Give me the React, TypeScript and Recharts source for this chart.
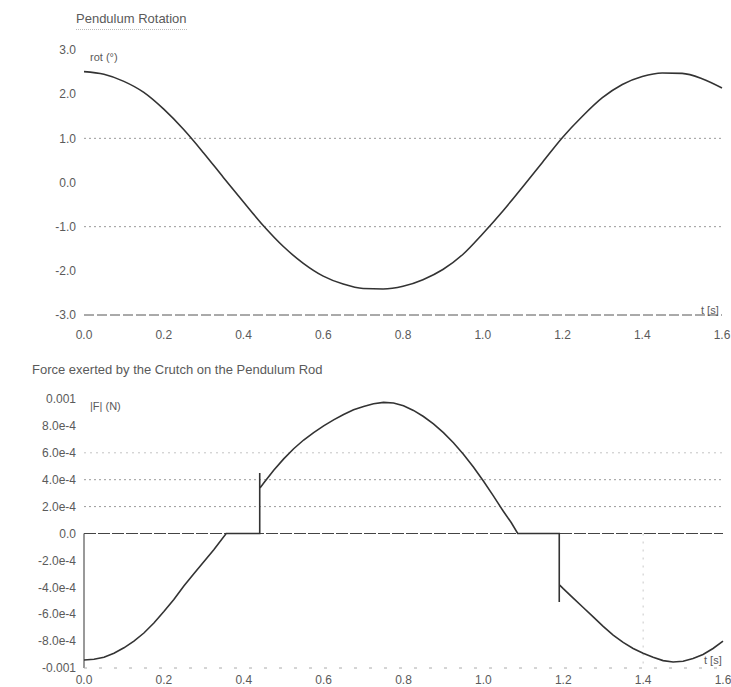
import React from "react";
import { LineChart, Line, XAxis, YAxis, ReferenceLine } from "recharts";

// ---- Pendulum rotation (degrees) ----
const rotTime = [0, 0.05, 0.1, 0.15, 0.2, 0.25, 0.3, 0.35, 0.4, 0.45, 0.5, 0.55, 0.6, 0.65, 0.7, 0.75, 0.8, 0.85, 0.9, 0.95, 1.0, 1.05, 1.1, 1.15, 1.2, 1.25, 1.3, 1.35, 1.4, 1.45, 1.5, 1.55, 1.6];
const rotValues = [2.51, 2.45, 2.29, 2.04, 1.66, 1.2, 0.67, 0.11, -0.44, -0.98, -1.45, -1.83, -2.12, -2.3, -2.4, -2.41, -2.35, -2.2, -1.97, -1.63, -1.16, -0.65, -0.1, 0.46, 1.02, 1.5, 1.92, 2.22, 2.4, 2.48, 2.47, 2.35, 2.14];

// ---- Force exerted by the crutch (N) ----
const forceTime = [
  0, 0.025, 0.05, 0.075, 0.1, 0.125, 0.15, 0.175, 0.2, 0.225, 0.25, 0.275, 0.3, 0.325, 0.356,
  0.44, 0.44, 0.44, 0.45, 0.475, 0.5, 0.525, 0.55, 0.575, 0.6, 0.625, 0.65, 0.675, 0.7, 0.725, 0.75, 0.775, 0.8, 0.825, 0.85, 0.875, 0.9, 0.925, 0.95, 0.975, 1.0, 1.025, 1.05, 1.07, 1.086,
  1.19, 1.19, 1.19, 1.2, 1.225, 1.25, 1.275, 1.3, 1.325, 1.35, 1.375, 1.4, 1.425, 1.45, 1.475, 1.5, 1.525, 1.55, 1.575, 1.6,
];
const forceValues = [
  -9.4e-4, -9.35e-4, -9.2e-4, -8.9e-4, -8.5e-4, -8.0e-4, -7.4e-4, -6.65e-4, -5.8e-4, -4.9e-4, -3.9e-4, -3.0e-4, -2.1e-4, -1.2e-4, 0,
  0, 4.5e-4, 3.35e-4, 3.75e-4, 4.7e-4, 5.55e-4, 6.3e-4, 6.95e-4, 7.5e-4, 8.0e-4, 8.45e-4, 8.85e-4, 9.2e-4, 9.45e-4, 9.65e-4, 9.75e-4, 9.7e-4, 9.5e-4, 9.15e-4, 8.7e-4, 8.15e-4, 7.5e-4, 6.75e-4, 5.9e-4, 4.95e-4, 3.9e-4, 2.8e-4, 1.65e-4, 0.8e-4, 0,
  0, -5.1e-4, -3.8e-4, -4.1e-4, -4.8e-4, -5.5e-4, -6.2e-4, -6.9e-4, -7.55e-4, -8.1e-4, -8.55e-4, -8.9e-4, -9.2e-4, -9.45e-4, -9.55e-4, -9.5e-4, -9.3e-4, -9.0e-4, -8.55e-4, -8.0e-4,
];

const timeTicks = [0, 0.2, 0.4, 0.6, 0.8, 1.0, 1.2, 1.4, 1.6];
const rotTicks = [-3, -2, -1, 0, 1, 2, 3];
const forceTicks = [-0.001, -8e-4, -6e-4, -4e-4, -2e-4, 0, 2e-4, 4e-4, 6e-4, 8e-4, 0.001];
const forceTickLabels = ["-0.001", "-8.0e-4", "-6.0e-4", "-4.0e-4", "-2.0e-4", "0.0", "2.0e-4", "4.0e-4", "6.0e-4", "8.0e-4", "0.001"];

const rotData = rotTime.map((t, i) => ({ t, v: rotValues[i] }));
const forceData = forceTime.map((t, i) => ({ t, v: forceValues[i] }));

const FONT = "'Liberation Sans', Arial, sans-serif";
const textGray = "#5a5a5a";
const tickStyle = { fill: textGray, fontSize: 12, fontFamily: FONT };

const abs = (left: number, top: number, size = 12): React.CSSProperties => ({
  position: "absolute",
  left,
  top,
  fontSize: size,
  fontFamily: FONT,
  color: textGray,
  whiteSpace: "nowrap",
  lineHeight: 1,
});

export default function App() {
  return (
    <div style={{ position: "absolute", left: 0, top: 0, width: 731, height: 687, background: "#fff", overflow: "hidden" }}>
      <div style={{ position: "absolute", left: 0, top: 0 }}>
        <LineChart width={731} height={345} data={rotData} margin={{ top: 50, right: 9, bottom: 0, left: 34 }}>
          <XAxis
            type="number"
            dataKey="t"
            domain={[0, 1.6]}
            ticks={timeTicks}
            tickFormatter={(v: number) => v.toFixed(1)}
            tick={tickStyle}
            tickLine={false}
            axisLine={{ stroke: "#555", strokeDasharray: "10 3", strokeWidth: 1 }}
            tickMargin={9}
            height={30}
            interval={0}
          />
          <YAxis
            type="number"
            domain={[-3, 3]}
            ticks={rotTicks}
            tickFormatter={(v: number) => v.toFixed(1)}
            tick={tickStyle}
            tickLine={false}
            axisLine={false}
            width={50}
            interval={0}
          />
          <ReferenceLine y={1} stroke="#9a9a9a" strokeDasharray="2 3" />
          <ReferenceLine y={-1} stroke="#9a9a9a" strokeDasharray="2 3" />
          <Line type="monotone" dataKey="v" stroke="#333" strokeWidth={1.6} dot={false} isAnimationActive={false} />
        </LineChart>
      </div>

      <div style={{ position: "absolute", left: 0, top: 345 }}>
        <LineChart width={731} height={342} data={forceData} margin={{ top: 54, right: 8, bottom: 0, left: 34 }}>
          <XAxis
            type="number"
            dataKey="t"
            domain={[0, 1.6]}
            ticks={timeTicks}
            tickFormatter={(v: number) => v.toFixed(1)}
            tick={tickStyle}
            tickLine={false}
            axisLine={{ stroke: "#aaa", strokeDasharray: "3 12", strokeWidth: 1 }}
            tickMargin={1}
            height={19}
            interval={0}
          />
          <YAxis
            type="number"
            domain={[-0.001, 0.001]}
            ticks={forceTicks}
            tickFormatter={(v: number, i: number) => forceTickLabels[i]}
            tick={tickStyle}
            tickLine={false}
            axisLine={false}
            width={50}
            interval={0}
          />
          <ReferenceLine y={6e-4} stroke="#c4c4c4" strokeDasharray="2 4" />
          <ReferenceLine y={4e-4} stroke="#9a9a9a" strokeDasharray="2 3" />
          <ReferenceLine y={2e-4} stroke="#9a9a9a" strokeDasharray="2 3" />
          <ReferenceLine y={0} stroke="#444" strokeDasharray="12 2" strokeWidth={1.2} />
          <ReferenceLine segment={[{ x: 0, y: 0 }, { x: 0, y: -0.001 }]} stroke="#555" strokeWidth={1.2} />
          <ReferenceLine segment={[{ x: 1.4, y: 0 }, { x: 1.4, y: -0.001 }]} stroke="#c8c8c8" strokeDasharray="2 6" />
          <Line type="linear" dataKey="v" stroke="#333" strokeWidth={1.6} dot={false} isAnimationActive={false} />
        </LineChart>
      </div>

      <div style={{ ...abs(76, 12, 13), borderBottom: "1px dotted #bbb", paddingBottom: 4 }}>Pendulum Rotation</div>
      <div style={abs(90, 52, 11)}>rot (°)</div>
      <div style={abs(701, 305, 11)}>t [s]</div>

      <div style={abs(32, 363, 13)}>Force exerted by the Crutch on the Pendulum Rod</div>
      <div style={abs(90, 401, 11)}>|F| (N)</div>
      <div style={abs(704, 655, 11)}>t [s]</div>
    </div>
  );
}
